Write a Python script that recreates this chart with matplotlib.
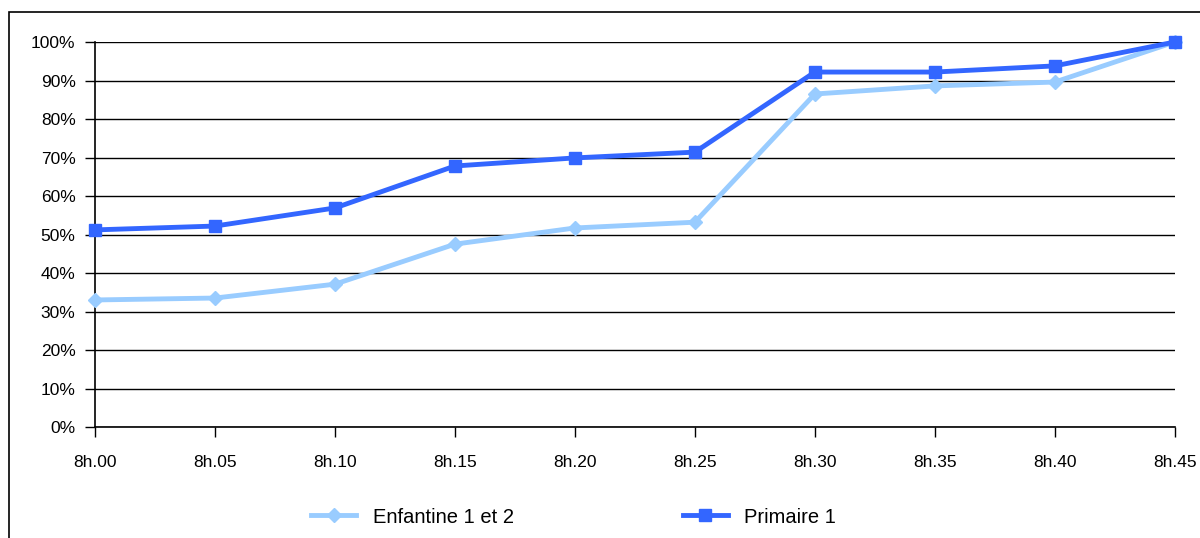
import numpy as np
import matplotlib.pyplot as plt
from matplotlib.patches import Rectangle

# ======================== Data ==============================
heures = ['8h.00', '8h.05', '8h.10', '8h.15', '8h.20', '8h.25',
          '8h.30', '8h.35', '8h.40', '8h.45']
enfantine = [33.0, 33.5, 37.1, 47.5, 51.7, 53.2, 86.5, 88.6, 89.6, 100.0]
primaire = [51.2, 52.2, 56.9, 67.8, 69.9, 71.4, 92.2, 92.2, 93.8, 100.0]

plt.rcParams['font.family'] = ['Liberation Sans Narrow', 'Liberation Sans', 'DejaVu Sans']

fig = plt.figure(figsize=(12, 5.38), dpi=100)
ax = fig.add_axes([0.0792, 0.2063, 0.8998, 0.7156])

x = np.arange(len(heures))
ax.plot(x, enfantine, color='#99CCFF', lw=3.5, marker='D', ms=7,
        label='Enfantine 1 et 2', zorder=3, clip_on=False)
ax.plot(x, primaire, color='#3366FF', lw=3.5, marker='s', ms=8,
        label='Primaire 1', zorder=4, clip_on=False)

ax.set_xlim(0, len(heures) - 1)
ax.set_ylim(0, 100)
ax.set_xticks(x)
ax.set_xticklabels(heures)
ax.set_yticks(np.arange(0, 101, 10))
ax.set_yticklabels([f'{v}%' for v in range(0, 101, 10)])
ax.tick_params(axis='both', labelsize=12.5, direction='out', length=7, width=1)
ax.tick_params(axis='x', pad=13)
ax.tick_params(axis='y', pad=7)

ax.yaxis.grid(True, color='black', lw=1)
ax.set_axisbelow(True)
for s in ['top', 'right']:
    ax.spines[s].set_visible(False)
for s in ['left', 'bottom']:
    ax.spines[s].set_color('black')
    ax.spines[s].set_linewidth(1.2)

fig.legend(loc='center', bbox_to_anchor=(0.478, 0.039), ncol=2, frameon=False,
           fontsize=14.5, columnspacing=8.4, handlelength=2.25, handletextpad=0.8)

# outer chart border
fig.patches.append(Rectangle((0.0075, -0.1), 1.1, 1.078, transform=fig.transFigure,
                             fill=False, edgecolor='black', lw=1.2))

fig.savefig('out.png', dpi=100)
